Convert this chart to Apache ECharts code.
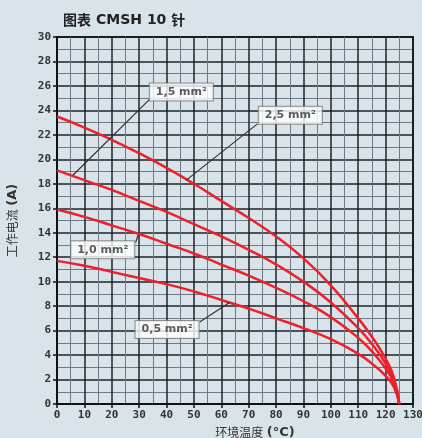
<!DOCTYPE html>
<html>
<head>
<meta charset="utf-8">
<title>图表 CMSH 10 针</title>
<script src="https://cdn.jsdelivr.net/npm/echarts@6/dist/echarts.min.js"></script>
</head>
<body style="margin:0;background:#d9e3ea;">
<div id="chart" style="width:422px;height:438px;"></div>
<script type="text/javascript">
// ambient temperature (°C) and current (A) for each wire cross-section
var temps = [0, 10, 20, 30, 40, 50, 60, 70, 80, 90, 100, 110, 115, 120, 123, 125];
var amp25 = [23.5, 22.6, 21.6, 20.5, 19.3, 18.0, 16.6, 15.2, 13.7, 11.9, 9.7, 7.0, 5.5, 3.7, 2.2, 0];
var amp15 = [19.1, 18.3, 17.5, 16.6, 15.7, 14.7, 13.7, 12.6, 11.4, 10.0, 8.3, 6.2, 4.9, 3.3, 1.9, 0];
var amp10 = [15.9, 15.3, 14.6, 13.9, 13.1, 12.3, 11.4, 10.5, 9.5, 8.4, 7.1, 5.4, 4.3, 2.9, 1.7, 0];
var amp05 = [11.7, 11.3, 10.8, 10.3, 9.8, 9.2, 8.5, 7.8, 7.0, 6.2, 5.3, 4.1, 3.3, 2.3, 1.4, 0];

// callout boxes and their leader lines
var labelNames = ['1,5 mm²', '2,5 mm²', '1,0 mm²', '0,5 mm²'];
var labelAt = [[45.4, 25.5], [85.2, 23.6], [16.7, 12.6], [40.2, 6.1]];
var leaderFrom = [[5.8, 18.7], [47.2, 18.3], [29.6, 13.8], [63.0, 8.3]];
var leaderTo = [[33.8, 24.9], [73.2, 22.9], [28.7, 13.2], [52.1, 6.7]];

var myChart = echarts.init(document.getElementById('chart'));

var curves = [amp25, amp15, amp10, amp05];
var Series = [];
for (var i = 0; i < curves.length; i++) {
    Series.push({
        type: 'line',
        smooth: 0.5,
        symbol: 'none',
        lineStyle: {color: '#ec2129', width: 2.5},
        data: temps.map(function (t, k) { return [t, this[k]]; }, curves[i]),
        z: 3
    });
}
for (var j = 0; j < labelNames.length; j++) {
    Series.push({
        type: 'line',
        symbol: 'none',
        lineStyle: {color: '#333', width: 1.2},
        data: [leaderFrom[j], leaderTo[j]],
        z: 4
    });
}
Series.push({
    type: 'scatter',
    symbolSize: 1,
    itemStyle: {color: 'rgba(0,0,0,0)'},
    data: labelAt.map(function (p, k) { return {name: labelNames[k], value: p}; }),
    label: {
        show: true,
        position: 'inside',
        formatter: '{b}',
        backgroundColor: '#fff',
        borderColor: '#777',
        borderWidth: 1,
        padding: [3, 6, 3, 6],
        color: '#333',
        fontFamily: 'DejaVu Sans',
        fontWeight: 'bold',
        fontSize: 11
    },
    z: 6
});

var option = {
    backgroundColor: '#d9e3ea',
    animation: false,
    title: {
        text: '{a|图表} {b|CMSH 10} {a|针}',
        left: 58, top: 6,
        textStyle: {
            rich: {
                a: {fontFamily: 'Noto Sans CJK SC', fontSize: 14, color: '#222'},
                b: {fontFamily: 'DejaVu Sans', fontWeight: 'bold', fontSize: 14, color: '#222'}
            }
        }
    },
    grid: {left: 57, right: 9, top: 37, bottom: 34, show: true, outerBoundsMode: 'none',
           borderColor: '#111', borderWidth: 2, backgroundColor: 'transparent'},
    xAxis: {
        type: 'value', min: 0, max: 130, interval: 10,
        name: '{a|环境温度} {b|(°C)}',
        nameLocation: 'middle', nameGap: 20,
        nameTextStyle: {
            padding: [0, 0, 0, 40],
            rich: {
                a: {fontFamily: 'Noto Sans CJK SC', fontSize: 12, color: '#333'},
                b: {fontFamily: 'DejaVu Sans', fontWeight: 'bold', fontSize: 13, color: '#333'}
            }
        },
        axisLine: {lineStyle: {color: '#111', width: 2}},
        axisTick: {show: true, length: 4, lineStyle: {color: '#111', width: 1.5}},
        axisLabel: {color: '#333', fontFamily: 'DejaVu Sans Mono', fontWeight: 'bold', fontSize: 11, margin: 6},
        splitLine: {show: true, lineStyle: {color: '#1e2328', width: 1.5}},
        minorTick: {show: false, splitNumber: 2},
        minorSplitLine: {show: true, lineStyle: {color: '#6f7a85', width: 1}}
    },
    yAxis: {
        type: 'value', min: 0, max: 30, interval: 2,
        name: '{a|工作电流} {b|(A)}',
        nameLocation: 'middle', nameGap: 38,
        nameTextStyle: {
            padding: [0, 0, 0, 0],
            rich: {
                a: {fontFamily: 'Noto Sans CJK SC', fontSize: 12, color: '#333'},
                b: {fontFamily: 'DejaVu Sans', fontWeight: 'bold', fontSize: 13, color: '#333'}
            }
        },
        axisLine: {show: true, lineStyle: {color: '#111', width: 2}},
        axisTick: {show: true, length: 4, lineStyle: {color: '#111', width: 1.5}},
        axisLabel: {color: '#333', fontFamily: 'DejaVu Sans Mono', fontWeight: 'bold', fontSize: 11, margin: 6},
        splitLine: {show: true, lineStyle: {color: '#1e2328', width: 1.5}},
        minorTick: {show: false, splitNumber: 2},
        minorSplitLine: {show: true, lineStyle: {color: '#6f7a85', width: 1}}
    },
    series: Series
};

myChart.setOption(option);
</script>
</body>
</html>
